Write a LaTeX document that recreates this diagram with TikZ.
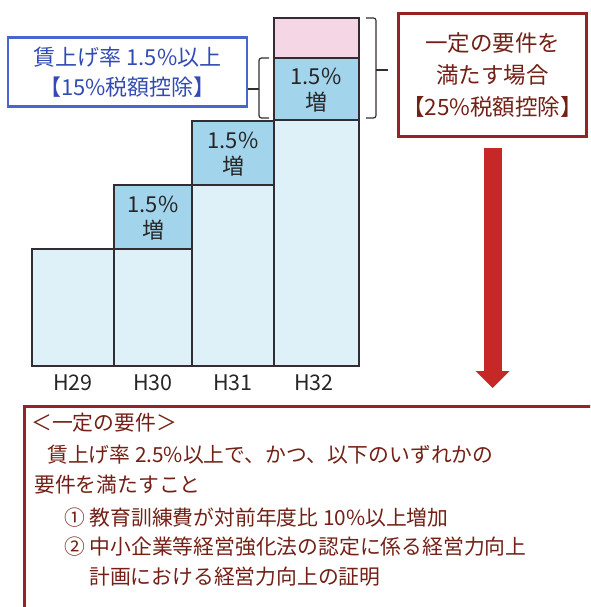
\documentclass[tikz,border=0pt]{standalone}
\usepackage{fontspec}
\setmainfont{Noto Sans CJK JP}
\usetikzlibrary{arrows.meta}
\usepackage{xcolor}

\definecolor{barbase}{RGB}{222,240,248}
\definecolor{barinc}{RGB}{162,213,235}
\definecolor{barpink}{RGB}{244,214,228}
\definecolor{barline}{RGB}{50,45,50}
\definecolor{rateblue}{RGB}{72,102,208}
\definecolor{ratetext}{RGB}{50,75,180}
\definecolor{reqred}{RGB}{150,35,35}
\definecolor{reqtext}{RGB}{115,32,22}
\definecolor{arrowred}{RGB}{198,40,40}

\tikzset{
  bar/.style={draw=barline, line width=1.2pt},
  inctext/.style={align=center, inner sep=0pt, text=black!85, font=\fontsize{22}{26}\selectfont},
  yearlabel/.style={inner sep=0pt, text=black!85, font=\fontsize{21.5}{24}\selectfont},
  ratebox/.style={draw=rateblue, line width=2.4pt, minimum width=239pt, minimum height=69pt,
    align=center, text=ratetext, font=\fontsize{22}{30}\selectfont},
  reqbox/.style={draw=reqred, line width=3pt, fill=white, minimum width=188pt, minimum height=123pt,
    align=center, text=reqtext, font=\fontsize{22.5}{32}\selectfont},
  reqframe/.style={draw=reqred, line width=3pt, minimum width=600pt, minimum height=230pt},
  reqline/.style={anchor=west, inner sep=0pt, text=reqtext, font=\fontsize{20.8}{24}\selectfont},
  bracket/.style={draw=barline, line width=1.2pt, rounded corners=2.5pt},
  bigarrow/.style={draw=arrowred, line width=18pt, -{Triangle[width=34pt,length=17pt,line width=0pt]}}
}

\begin{document}
\begin{tikzpicture}[x=1pt,y=-1pt]
\useasboundingbox (0,0) rectangle (590,607);
\clip (0,0) rectangle (590,607);

% bars
\draw[bar, fill=barbase] (32,249) rectangle (114,366);
\draw[bar, fill=barbase] (114,249) rectangle (192,366);
\draw[bar, fill=barinc] (114,185) rectangle (192,249);
\draw[bar, fill=barbase] (192,185) rectangle (274,366);
\draw[bar, fill=barinc] (192,121) rectangle (274,185);
\draw[bar, fill=barbase] (274,120) rectangle (359,366);
\draw[bar, fill=barinc] (274,58) rectangle (359,120);
\draw[bar, fill=barpink] (274,18) rectangle (359,58);

\node[inctext] (i30) at (153,218) {1.5\%\\増};
\node[inctext] (i31) at (233,154) {1.5\%\\増};
\node[inctext] (i32) at (316,90) {1.5\%\\増};

\node[yearlabel] (h29) at (73,383) {H29};
\node[yearlabel] (h30) at (153,383) {H30};
\node[yearlabel] (h31) at (233,383) {H31};
\node[yearlabel] (h32) at (314,383) {H32};

% boxes
\node[ratebox] (rate) at (127.5,72) {賃上げ率 1.5\%以上\\【15\%税額控除】};
\node[reqbox] (red) at (492.5,75) {一定の要件を\\満たす場合\\【25\%税額控除】};

% brackets
\draw[bracket] (269,58) -- (259,58) -- (259,118) -- (269,118);
\coordinate (lb) at (259,89);
\draw[bracket] (lb) -- (lb -| rate.east);
\draw[bracket] (366,18) -- (376,18) -- (376,118) -- (366,118);
\coordinate (rb) at (376,70);
\draw[bracket] (rb) -- ++(12,0);

% requirements
\node[reqframe, anchor=north west] (req) at (23,405) {};
\draw[bigarrow] ([yshift=-10pt]red.south) -- ([yshift=17pt]red.south |- req.north);

\node[reqline] (l1) at (31,423) {＜一定の要件＞};
\node[reqline] (l2) at (47,455) {賃上げ率 2.5\%以上で、かつ、以下のいずれかの};
\node[reqline] (l3) at (34,485) {要件を満たすこと};
\node[reqline] (l4) at (64,518) {① 教育訓練費が対前年度比 10\%以上増加};
\node[reqline] (l5) at (64,547) {② 中小企業等経営強化法の認定に係る経営力向上};
\node[reqline] (l6) at (89,577) {計画における経営力向上の証明};

\end{tikzpicture}
\end{document}
